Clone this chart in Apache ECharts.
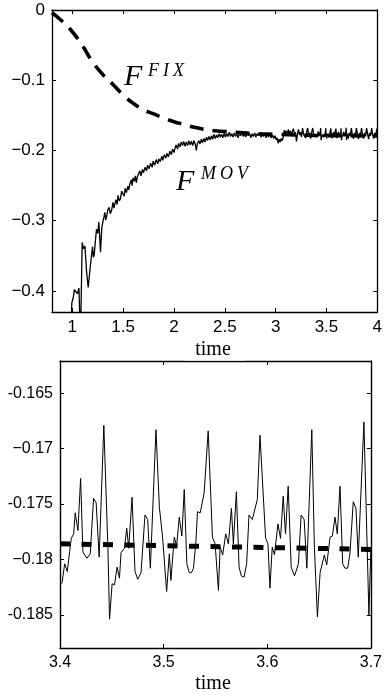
<!DOCTYPE html>
<html><head><meta charset="utf-8">
<script src="https://cdn.jsdelivr.net/npm/echarts@6/dist/echarts.min.js"></script>
<style>html,body{margin:0;padding:0;background:#fff}#c{width:385px;height:697px}</style>
</head><body><div id="c"></div><script>
// ---------- tick values / labels ----------
const topXTicks = [1, 1.5, 2, 2.5, 3, 3.5, 4];
const topXLabels = ['1', '1.5', '2', '2.5', '3', '3.5', '4'];
const topYTicks = [0, -0.1, -0.2, -0.3, -0.4];
const topYLabels = ['0', '\u22120.1', '\u22120.2', '\u22120.3', '\u22120.4'];
const botXTicks = [3.4, 3.5, 3.6, 3.7];
const botXLabels = ['3.4', '3.5', '3.6', '3.7'];
const botYTicks = [-0.165, -0.17, -0.175, -0.18, -0.185];
const botYLabels = ['-0.165', '\u22120.17', '-0.175', '\u22120.18', '-0.185'];

// ---------- F^FIX (smooth dashed curve) ----------
const fixCurve = [
  [0.8,-0.004],[0.9,-0.016],[1.0,-0.031],[1.1,-0.051],[1.2,-0.074],[1.3,-0.092],
  [1.4,-0.106],[1.5,-0.121],[1.6,-0.133],[1.7,-0.142],[1.8,-0.148],[1.9,-0.154],
  [2.0,-0.159],[2.1,-0.163],[2.2,-0.167],[2.3,-0.170],[2.4,-0.172],[2.5,-0.173],
  [2.6,-0.174],[2.8,-0.176],[3.0,-0.177],[3.4,-0.1786],[3.7,-0.1791],[4.0,-0.1795]
];

// ---------- F^MOV (noisy signal) ----------
const movEarly = [
  [0.985,-0.47],[0.995,-0.417],[1.01,-0.409],[1.02,-0.398],[1.035,-0.396],[1.05,-0.404],
  [1.065,-0.396],[1.08,-0.47],[1.094,-0.47],[1.097,-0.331],[1.11,-0.340],[1.124,-0.336],
  [1.14,-0.372],[1.156,-0.395],[1.168,-0.378],[1.179,-0.362],[1.19,-0.348],[1.199,-0.337],
  [1.207,-0.352],[1.215,-0.349],[1.226,-0.330],[1.238,-0.312],[1.25,-0.318],[1.261,-0.302],
  [1.27,-0.325],[1.277,-0.345],[1.29,-0.310],[1.303,-0.300],[1.312,-0.294],[1.32,-0.288],
  [1.328,-0.299],[1.336,-0.295],[1.35,-0.284],[1.362,-0.281],[1.373,-0.290],[1.385,-0.286],
  [1.40,-0.274],[1.41,-0.282],[1.418,-0.276],[1.43,-0.270],[1.44,-0.277],[1.45,-0.264],
  [1.462,-0.272],[1.473,-0.269],[1.485,-0.258],[1.499,-0.257],[1.51,-0.265],[1.52,-0.254],
  [1.532,-0.260],[1.545,-0.251],[1.555,-0.256],[1.565,-0.248],[1.58,-0.242],[1.588,-0.250],
  [1.597,-0.239],[1.61,-0.244],[1.62,-0.236],[1.63,-0.246],[1.64,-0.237],[1.65,-0.234],
  [1.663,-0.229],[1.675,-0.236],[1.69,-0.227],[1.70,-0.232],[1.715,-0.224],[1.73,-0.229],
  [1.74,-0.221],[1.755,-0.226],[1.77,-0.218],[1.785,-0.224],[1.795,-0.215],[1.81,-0.221],
  [1.825,-0.213],[1.84,-0.219],[1.85,-0.212],[1.865,-0.216],[1.88,-0.208],[1.89,-0.214],
  [1.905,-0.206],[1.92,-0.211],[1.93,-0.204],[1.945,-0.209],[1.96,-0.201],[1.975,-0.206],
  [1.985,-0.198],[2.00,-0.203],[2.01,-0.197],[2.02,-0.192],[2.035,-0.198],[2.045,-0.190],
  [2.06,-0.195],[2.07,-0.188],[2.085,-0.193],[2.095,-0.187],[2.11,-0.194],[2.12,-0.188],
  [2.135,-0.193],[2.145,-0.186],[2.16,-0.192],[2.17,-0.187],[2.185,-0.193],[2.195,-0.186],
  [2.21,-0.191],[2.22,-0.200],[2.23,-0.190],[2.245,-0.186],[2.255,-0.191],[2.27,-0.184],
  [2.28,-0.189],[2.295,-0.183],[2.305,-0.188],[2.32,-0.181],[2.33,-0.186],[2.345,-0.180],
  [2.355,-0.185],[2.37,-0.179],[2.38,-0.184],[2.395,-0.177],[2.405,-0.183],[2.42,-0.178],
  [2.43,-0.182],[2.445,-0.176],[2.455,-0.181],[2.47,-0.177],[2.48,-0.182],[2.495,-0.175],
  [2.505,-0.181],[2.52,-0.176],[2.53,-0.180],[2.545,-0.174],[2.555,-0.180],[2.57,-0.176],
  [2.58,-0.181],[2.595,-0.175],[2.605,-0.180],[2.62,-0.177],[2.63,-0.182],[2.645,-0.175],
  [2.655,-0.179],[2.67,-0.174],[2.68,-0.180],[2.695,-0.176],[2.705,-0.181],[2.72,-0.175],
  [2.73,-0.179],[2.745,-0.176],[2.755,-0.182],[2.77,-0.176],[2.78,-0.180],[2.795,-0.175],
  [2.805,-0.181],[2.82,-0.176],[2.83,-0.179],[2.845,-0.175],[2.855,-0.181],[2.87,-0.177],
  [2.88,-0.180],[2.895,-0.176],[2.905,-0.182],[2.92,-0.177],[2.93,-0.181],[2.945,-0.176],
  [2.955,-0.182],[2.97,-0.178],[2.98,-0.183],[2.995,-0.179],[3.005,-0.185],[3.015,-0.182],
  [3.025,-0.190],[3.035,-0.184],[3.045,-0.188],[3.055,-0.183],[3.065,-0.186],[3.075,-0.181],
  [3.085,-0.171],[3.095,-0.176],[3.105,-0.172],[3.115,-0.178],[3.125,-0.170],[3.135,-0.177],
  [3.145,-0.172],[3.155,-0.179],[3.165,-0.173],[3.175,-0.169],[3.185,-0.178],[3.195,-0.174],
  [3.205,-0.187],[3.215,-0.176],[3.225,-0.170],[3.235,-0.178],[3.245,-0.174],[3.255,-0.181],
  [3.265,-0.168],[3.275,-0.177],[3.285,-0.175],[3.295,-0.182],[3.305,-0.174],[3.315,-0.168],
  [3.325,-0.178],[3.335,-0.175],[3.345,-0.183],[3.355,-0.174],[3.365,-0.168],[3.375,-0.178],
  [3.385,-0.176],[3.395,-0.181]
];
const movDetail = [
  [3.400,-0.1823],[3.402,-0.1821],[3.4045,-0.1804],[3.407,-0.1811],[3.4093,-0.1793],[3.4109,-0.1781],
  [3.4132,-0.1777],[3.4147,-0.1758],[3.4173,-0.1774],[3.4199,-0.1727],[3.4221,-0.1793],[3.4237,-0.1796],
  [3.426,-0.1799],[3.4279,-0.1798],[3.4292,-0.1795],[3.4324,-0.1745],[3.4349,-0.1749],[3.4378,-0.1798],
  [3.4423,-0.1679],[3.4462,-0.1789],[3.4478,-0.1854],[3.4503,-0.1822],[3.4526,-0.1823],[3.4551,-0.1807],
  [3.4574,-0.1817],[3.4589,-0.1794],[3.4622,-0.1790],[3.4644,-0.1772],[3.4663,-0.1790],[3.4695,-0.1744],
  [3.4724,-0.1811],[3.4750,-0.1818],[3.4782,-0.1812],[3.4820,-0.1760],[3.4846,-0.1764],[3.4872,-0.1808],
  [3.4926,-0.1683],[3.4959,-0.1753],[3.4990,-0.1780],[3.5029,-0.1829],[3.5055,-0.1795],[3.5070,-0.1819],
  [3.5103,-0.1780],[3.5125,-0.1788],[3.5151,-0.1762],[3.5176,-0.1779],[3.5199,-0.1737],[3.5224,-0.1804],
  [3.5247,-0.1812],[3.5269,-0.1812],[3.5288,-0.1808],[3.5311,-0.1785],[3.5327,-0.1757],[3.5353,-0.1758],
  [3.5391,-0.1740],[3.5430,-0.1684],[3.5471,-0.1780],[3.5497,-0.1786],[3.5529,-0.1828],[3.5545,-0.1789],
  [3.5570,-0.1796],[3.5599,-0.1777],[3.5625,-0.1786],[3.5654,-0.1754],[3.5673,-0.1786],[3.5702,-0.1739],
  [3.5728,-0.1807],[3.5750,-0.1815],[3.5776,-0.1816],[3.5801,-0.1804],[3.5824,-0.1760],[3.5856,-0.1764],
  [3.5904,-0.1746],[3.5930,-0.1688],[3.5984,-0.1781],[3.6007,-0.1786],[3.6026,-0.1826],[3.6048,-0.1789],
  [3.6070,-0.1796],[3.6103,-0.1768],[3.6128,-0.1781],[3.6154,-0.1743],[3.6176,-0.1777],[3.6202,-0.1734],
  [3.6231,-0.1807],[3.6263,-0.1815],[3.6301,-0.1804],[3.6327,-0.1760],[3.6356,-0.1764],[3.6382,-0.1808],
  [3.6430,-0.1683],[3.6455,-0.1789],[3.6484,-0.1852],[3.6510,-0.1812],[3.6526,-0.1813],[3.6551,-0.1796],
  [3.6574,-0.1805],[3.6606,-0.1780],[3.6628,-0.1779],[3.6654,-0.1762],[3.6676,-0.1777],[3.6702,-0.1734],
  [3.6728,-0.1804],[3.6750,-0.1808],[3.6776,-0.1808],[3.6798,-0.1795],[3.6830,-0.1748],[3.6856,-0.1754],
  [3.6878,-0.1798],[3.6933,-0.1676],[3.6981,-0.1850],[3.7000,-0.1790]
];
const movLate = [
  [3.705,-0.176],[3.715,-0.183],[3.725,-0.175],[3.735,-0.179],[3.745,-0.168],[3.755,-0.178],
  [3.765,-0.183],[3.775,-0.175],[3.785,-0.180],[3.795,-0.168],[3.805,-0.177],[3.815,-0.184],
  [3.825,-0.175],[3.835,-0.179],[3.845,-0.168],[3.855,-0.178],[3.865,-0.183],[3.875,-0.175],
  [3.885,-0.180],[3.895,-0.168],[3.905,-0.177],[3.915,-0.184],[3.925,-0.175],[3.935,-0.179],
  [3.945,-0.168],[3.955,-0.178],[3.965,-0.183],[3.975,-0.175],[3.985,-0.180],[3.995,-0.169],
  [4.0,-0.176]
];

// ---------- build chart ----------
const SANS = '"Liberation Sans", Arial, sans-serif';
const SERIF = '"Liberation Serif", "DejaVu Serif", serif';

function lookup(ticks, labels) {
  return function (v) {
    for (let i = 0; i < ticks.length; i++) if (Math.abs(v - ticks[i]) < 1e-9) return labels[i];
    return '';
  };
}
function xPair(grid, min, max, ticks, labels, fs, lw) {
  const line = { show: true, onZero: false, lineStyle: { color: '#000', width: lw } };
  const tick = { show: true, inside: true, length: 4, customValues: ticks, lineStyle: { color: '#000', width: 1 } };
  return [
    { type: 'value', gridIndex: grid, min, max, position: 'bottom', axisLine: line, axisTick: tick,
      axisLabel: { show: true, customValues: ticks, formatter: lookup(ticks, labels), color: '#000',
        fontSize: fs, fontFamily: SANS, margin: 7 }, splitLine: { show: false } },
    { type: 'value', gridIndex: grid, min, max, position: 'top', axisLine: line, axisTick: tick,
      axisLabel: { show: false }, splitLine: { show: false } }
  ];
}
function yPair(grid, min, max, ticks, labels, fs, lw) {
  const line = { show: true, onZero: false, lineStyle: { color: '#000', width: lw } };
  const tick = { show: true, inside: true, length: 4, customValues: ticks, lineStyle: { color: '#000', width: 1 } };
  return [
    { type: 'value', gridIndex: grid, min, max, position: 'left', axisLine: line, axisTick: tick,
      axisLabel: { show: true, customValues: ticks, formatter: lookup(ticks, labels), color: '#000',
        fontSize: fs, fontFamily: SANS, margin: 7 }, splitLine: { show: false } },
    { type: 'value', gridIndex: grid, min, max, position: 'right', axisLine: line, axisTick: tick,
      axisLabel: { show: false }, splitLine: { show: false } }
  ];
}

const chart = echarts.init(document.getElementById('c'), null, { renderer: 'canvas' });
const fixBottom = fixCurve.filter(p => p[0] >= 3.4 && p[0] <= 3.7);

function supText(x, y, letters) {
  return {
    type: 'text', x: x, y: y, z: 100,
    style: {
      text: letters.map(l => '{s|' + l + '}').join(''),
      rich: { s: { fontFamily: SERIF, fontStyle: 'italic', fontSize: 18, padding: [0, 2, 0, 2], fill: '#000', color: '#000' } },
      align: 'left', verticalAlign: 'middle', textAlign: 'left', textVerticalAlign: 'middle', fill: '#000'
    }
  };
}
function bigF(x, y) {
  return {
    type: 'text', x: x, y: y, z: 100,
    style: { text: 'F', font: 'italic 30px ' + SERIF, fill: '#000',
      align: 'left', verticalAlign: 'middle', textAlign: 'left', textVerticalAlign: 'middle' }
  };
}
function timeText(x, y) {
  return {
    type: 'text', x: x, y: y, z: 100,
    style: { text: 'time', font: '20px ' + SERIF, fill: '#000',
      align: 'center', verticalAlign: 'middle', textAlign: 'center', textVerticalAlign: 'middle' }
  };
}

chart.setOption({
  backgroundColor: '#fff',
  animation: false,
  grid: [
    { left: 52, top: 10, width: 327, height: 302 },
    { left: 60, top: 361, width: 313, height: 287 }
  ],
  xAxis: [
    ...xPair(0, 0.8, 4, topXTicks, topXLabels, 17, 1.3),
    ...xPair(1, 3.4, 3.7, botXTicks, botXLabels, 16, 1.4)
  ],
  yAxis: [
    ...yPair(0, -0.43, 0, topYTicks, topYLabels, 17, 1.3),
    ...yPair(1, -0.188, -0.1621, botYTicks, botYLabels, 16, 1.4)
  ],
  series: [
    { type: 'line', xAxisIndex: 0, yAxisIndex: 0, data: movEarly.concat(movDetail, movLate),
      showSymbol: false, symbol: 'none', clip: true, z: 2,
      lineStyle: { color: '#000', width: 1.3 } },
    { type: 'line', xAxisIndex: 0, yAxisIndex: 0, data: fixCurve, smooth: true,
      showSymbol: false, symbol: 'none', clip: true, z: 3,
      lineStyle: { color: '#000', width: 3.6, type: [14, 9], cap: 'butt' } },
    { type: 'line', xAxisIndex: 2, yAxisIndex: 2, data: movDetail,
      showSymbol: false, symbol: 'none', clip: true, z: 2,
      lineStyle: { color: '#000', width: 1 } },
    { type: 'line', xAxisIndex: 2, yAxisIndex: 2, data: fixBottom,
      showSymbol: false, symbol: 'none', clip: true, z: 3,
      lineStyle: { color: '#000', width: 5, type: [10, 11.5], cap: 'butt' } }
  ],
  graphic: [
    bigF(124, 77), supText(146, 71, ['F', 'I', 'X']),
    bigF(176, 182), supText(199, 174, ['M', 'O', 'V']),
    timeText(213, 350),
    { type: 'rect', z: 101, shape: { x: 185, y: 355, width: 60, height: 5.5 }, style: { fill: '#fff' } },
    timeText(213, 684)
  ]
});
</script></body></html>
